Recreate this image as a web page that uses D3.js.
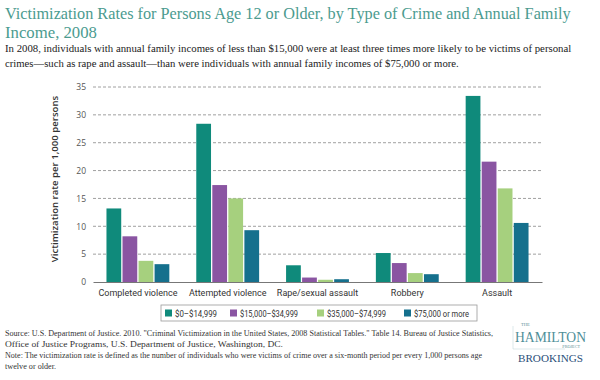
<!DOCTYPE html>
<html>
<head>
<meta charset="utf-8">
<script src="https://cdn.jsdelivr.net/npm/d3@7"></script>
<style>
  body { margin: 0; background: #fff; }
  svg { display: block; }
  .tick text { font-family: "Open Sans", sans-serif; font-size: 8.5px; fill: #555; }
  .serif { font-family: "Liberation Serif", "DejaVu Serif", serif; }
</style>
</head>
<body>
<div id="chart"></div>
<script>
const categories = ['Completed violence', 'Attempted violence', 'Rape/sexual assault', 'Robbery', 'Assault'];
const incomeGroups = ['$0\u2013$14,999', '$15,000\u2013$34,999', '$35,000\u2013$74,999', '$75,000 or more'];
const low = [13.2, 28.4, 3.0, 5.2, 33.4];
const lowMid = [8.2, 17.4, 0.8, 3.4, 21.6];
const highMid = [3.8, 15.0, 0.4, 1.6, 16.8];
const high = [3.2, 9.3, 0.5, 1.4, 10.6];
const yTicks = [0, 5, 10, 15, 20, 25, 30, 35];
const colors = ['#0f8a7b', '#8a55a2', '#a6d07e', '#15708d'];

const series = [low, lowMid, highMid, high];
const data = categories.map((c, i) => ({ cat: c, vals: series.map(s => s[i]) }));

const W = 600, H = 380;
const margin = { top: 87, left: 93, right: 58, bottom: 98 };
const innerW = W - margin.left - margin.right;
const innerH = H - margin.top - margin.bottom;
const SANS = 'Roboto, "Open Sans", sans-serif';

const svg = d3.select('#chart').append('svg')
    .attr('width', W)
    .attr('height', H);

// title: squeeze each line horizontally to the reference width
function fitLine(txt, x, yPos, width, size, fill) {
    const t = svg.append('text').attr('class', 'serif')
        .attr('fill', fill)
        .style('font-size', size + 'px')
        .text(txt);
    const natural = t.node().getComputedTextLength();
    const sx = Math.min(1, width / natural);
    t.attr('transform', `translate(${x}, ${yPos}) scale(${sx}, 1)`);
    return t;
}
fitLine('Victimization Rates for Persons Age 12 or Older, by Type of Crime and Annual Family', 5, 19, 566, 17.5, '#4b9b8f');
fitLine('Income, 2008', 5, 38, 92, 17.5, '#4b9b8f');

fitLine('In 2008, individuals with annual family incomes of less than $15,000 were at least three times more likely to be victims of personal', 5, 52, 567, 11, '#222');
fitLine('crimes\u2014such as rape and assault\u2014than were individuals with annual family incomes of $75,000 or more.', 5, 67, 454, 11, '#222');

const g = svg.append('g')
    .attr('transform', `translate(${margin.left}, ${margin.top})`);

let x0 = d3.scaleBand().domain(categories).range([0, innerW]).paddingInner(0.3).paddingOuter(0.15);
let x1 = d3.scaleBand().domain(d3.range(4)).range([0, x0.bandwidth()]).paddingInner(0.08);
let y = d3.scaleLinear().domain([0, 35]).range([innerH, 0]);

/** dashed grid */
g.selectAll('line.grid')
    .data(yTicks.filter(t => t > 0))
    .enter()
    .append('line')
    .attr('class', 'grid')
    .attr('x1', 0)
    .attr('x2', innerW)
    .attr('y1', d => y(d))
    .attr('y2', d => y(d))
    .style('stroke', '#888')
    .style('stroke-width', 0.8)
    .style('stroke-dasharray', '3,2');

/** y axis, ticks only */
const yAxis = g.append('g')
    .call(d3.axisLeft(y).tickValues(yTicks).tickSize(0).tickPadding(7));
yAxis.select('.domain').remove();

/** bars */
g.selectAll('g.grp')
    .data(data)
    .enter()
    .append('g')
    .attr('class', 'grp')
    .attr('transform', d => `translate(${x0(d.cat)}, 0)`)
    .selectAll('rect')
    .data(d => d.vals)
    .enter()
    .append('rect')
    .attr('x', (d, i) => x1(i))
    .attr('width', x1.bandwidth())
    .attr('y', d => y(d))
    .attr('height', d => innerH - y(d))
    .style('fill', (d, i) => colors[i]);

/** x axis */
const xAxis = g.append('g')
    .attr('transform', `translate(0, ${innerH})`)
    .call(d3.axisBottom(x0).tickSize(0).tickPadding(8));
xAxis.select('.domain').style('stroke', '#777');
xAxis.selectAll('text')
    .style('font-family', SANS)
    .style('font-size', '9px').style('fill', '#333');

/** y title */
svg.append('text')
    .attr('transform', `translate(58, ${margin.top + 92}) rotate(-90)`)
    .attr('text-anchor', 'middle')
    .style('font-family', '"Open Sans", sans-serif')
    .style('font-size', '9.6px')
    .style('font-weight', 600)
    .style('fill', '#333')
    .text('Victimization rate per 1,000 persons');

/** legend */
const legend = svg.append('g').attr('transform', 'translate(161, 305)');
legend.append('rect')
    .attr('width', 316).attr('height', 16)
    .style('fill', 'none').style('stroke', '#999').style('stroke-width', 0.8);
const legX = [4, 69, 156, 243];
const legLen = [42, 58, 59, 55];
incomeGroups.forEach((lbl, i) => {
    legend.append('rect')
        .attr('x', legX[i]).attr('y', 4.5)
        .attr('width', 7).attr('height', 7)
        .style('fill', colors[i]);
    legend.append('text')
        .attr('x', legX[i] + 10).attr('y', 11.5)
        .attr('textLength', legLen[i]).attr('lengthAdjust', 'spacingAndGlyphs')
        .style('font-family', SANS)
        .style('font-size', '8.5px')
        .style('fill', '#333')
        .text(lbl);
});

/** source notes */
const notes = [
    'Source: U.S. Department of Justice. 2010. "Criminal Victimization in the United States, 2008 Statistical Tables." Table 14. Bureau of Justice Statistics,',
    'Office of Justice Programs, U.S. Department of Justice, Washington, DC.',
    'Note: The victimization rate is defined as the number of individuals who were victims of crime over a six-month period per every 1,000 persons age',
    'twelve or older.'
];
const noteLen = [488, 278, 477, 51];
svg.append('text').attr('class', 'serif')
    .style('font-size', '8px').style('fill', '#333')
    .selectAll('tspan')
    .data(notes)
    .enter()
    .append('tspan')
    .attr('x', 5)
    .attr('y', (d, i) => 336 + i * 11)
    .attr('textLength', (d, i) => noteLen[i])
    .attr('lengthAdjust', 'spacingAndGlyphs')
    .text(d => d);

/** logo */
const logo = svg.append('g').attr('class', 'serif');
logo.append('text').attr('x', 521).attr('y', 326)
    .style('font-size', '4.5px').style('fill', '#5a8f96').text('THE');
logo.append('text').attr('x', 515).attr('y', 342)
    .attr('textLength', 71).attr('lengthAdjust', 'spacingAndGlyphs')
    .style('font-size', '15px').style('fill', '#4f8f99').text('HAMILTON');
logo.append('text').attr('x', 580).attr('y', 348).attr('text-anchor', 'end')
    .style('font-size', '4.2px').style('fill', '#5a8f96').text('PROJECT');
logo.append('path').attr('d', 'M513,326V349H565')
    .style('fill', 'none').style('stroke', '#b9d2d5').style('stroke-width', 0.5);
logo.append('text').attr('x', 518).attr('y', 362)
    .attr('textLength', 65).attr('lengthAdjust', 'spacingAndGlyphs')
    .style('font-size', '11px').style('fill', '#2b4f7a').text('BROOKINGS');
</script>
</body>
</html>
